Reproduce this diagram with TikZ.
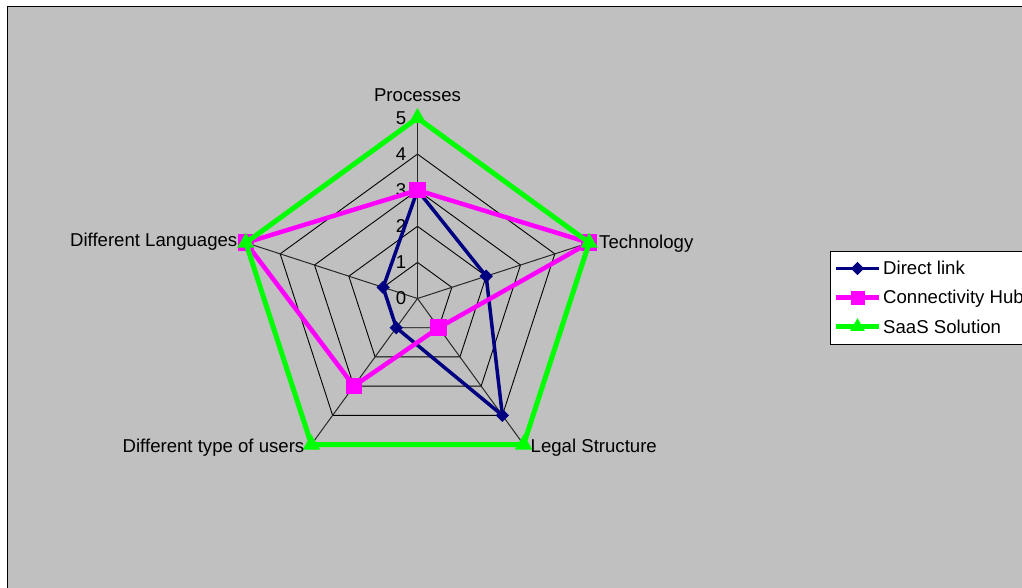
\documentclass[tikz,border=0pt]{standalone}
\usepackage{fontspec}
\setmainfont{Liberation Sans}
\usetikzlibrary{shapes.geometric}
\definecolor{bg}{RGB}{192,192,192}
\definecolor{navyc}{RGB}{0,0,128}
\definecolor{magc}{RGB}{255,0,255}
\definecolor{limec}{RGB}{0,255,0}
\definecolor{spokec}{RGB}{40,40,40}
\begin{document}
\begin{tikzpicture}[x=1pt,y=-1pt,
  lbl/.style={font=\fontsize{18.6}{22}\selectfont, inner sep=0pt, text=black},
  gridline/.style={draw=black, line width=0.9pt},
  spoke/.style={draw=spokec, line width=1pt},
  navyline/.style={draw=navyc, line width=3.5pt, line join=miter},
  magline/.style={draw=magc, line width=4.5pt, line join=miter},
  limeline/.style={draw=limec, line width=5pt, line join=miter},
  dmd/.style={diamond, fill=navyc, inner sep=0pt, minimum size=13.5pt},
  sqm/.style={rectangle, fill=magc, inner sep=0pt, minimum size=16.5pt},
  trm/.style={regular polygon, regular polygon sides=3, fill=limec, inner sep=0pt, minimum size=20pt}]
\useasboundingbox (0,0) rectangle (1022,588);
\fill[white] (0,0) rectangle (1022,588);
\fill[bg] (7.5,6.5) rectangle (1030,600);
\draw[black, line width=1.2pt] (7.5,600) -- (7.5,6.5) -- (1030,6.5);
\begin{scope}[shift={(417.5,298.5)}]
  \coordinate (c) at (0,0);
  % grid pentagons
  \foreach \k in {1,...,5} {
    \foreach [count=\i] \ang in {-90,-18,54,126,198} {
      \coordinate (g\k-\i) at (\ang:\k*36.1);
    }
    \draw[gridline] (g\k-1) -- (g\k-2) -- (g\k-3) -- (g\k-4) -- (g\k-5) -- cycle;
  }
  % spokes
  \foreach \i in {1,...,5} \draw[spoke] (c) -- (g5-\i);
  % value labels
  \foreach \k in {0,...,5} \node[lbl, anchor=east] (val\k) at (-11,-\k*36.1) {\k};
  % Direct link
  \foreach [count=\i] \ang/\v in {-90/3,-18/2,54/4,126/1,198/1} \coordinate (d\i) at (\ang:\v*36.1);
  \draw[navyline] (d1) -- (d2) -- (d3) -- (d4) -- (d5) -- cycle;
  \foreach \i in {1,...,5} \node[dmd] (dm\i) at (d\i) {};
  % Connectivity Hub
  \foreach [count=\i] \ang/\v in {-90/3,-18/5,54/1,126/3,198/5} \coordinate (h\i) at (\ang:\v*36.1);
  \draw[magline] (h1) -- (h2) -- (h3) -- (h4) -- (h5) -- cycle;
  \foreach \i in {1,...,5} \node[sqm] (hm\i) at (h\i) {};
  % SaaS Solution
  \foreach [count=\i] \ang/\v in {-90/5,-18/5,54/5,126/5,198/5} \coordinate (s\i) at (\ang:\v*36.1);
  \draw[limeline] (s1) -- (s2) -- (s3) -- (s4) -- (s5) -- cycle;
  \foreach \i in {1,...,5} \node[trm] (sm\i) at (s\i) {};
\end{scope}
% axis labels
\node[lbl, anchor=base] (lProc) at (417.5,102) {Processes};
\node[lbl, anchor=base west] (lTech) at (599,248) {Technology};
\node[lbl, anchor=base west] (lLegal) at (530.5,452.5) {Legal Structure};
\node[lbl, anchor=base east] (lUsers) at (304.5,452.3) {Different type of users};
\node[lbl, anchor=base east] (lLang) at (237.5,246.7) {Different Languages};
% legend
\node[draw=black, fill=white, line width=1pt, anchor=north west, minimum width=210pt, minimum height=92.5pt, inner sep=0pt] (leg) at (830,251) {};
\coordinate (la1) at (836,268.5); \coordinate (lb1) at (879,268.5);
\coordinate (la2) at (836,297.7); \coordinate (lb2) at (879,297.7);
\coordinate (la3) at (836,326.7); \coordinate (lb3) at (879,326.7);
\draw[navyline] (la1) -- (lb1);
\node[dmd] (lm1) at (857.5,268.5) {};
\draw[magline] (la2) -- (lb2);
\node[sqm, minimum size=14pt] (lm2) at (857.5,297.7) {};
\draw[limeline] (la3) -- (lb3);
\node[trm, minimum size=17pt] (lm3) at (857.5,326.7) {};
\node[lbl, anchor=base west] (lt1) at (883,274) {Direct link};
\node[lbl, anchor=base west] (lt2) at (883,303.5) {Connectivity Hub};
\node[lbl, anchor=base west] (lt3) at (883,333.5) {SaaS Solution};
\end{tikzpicture}
\end{document}
